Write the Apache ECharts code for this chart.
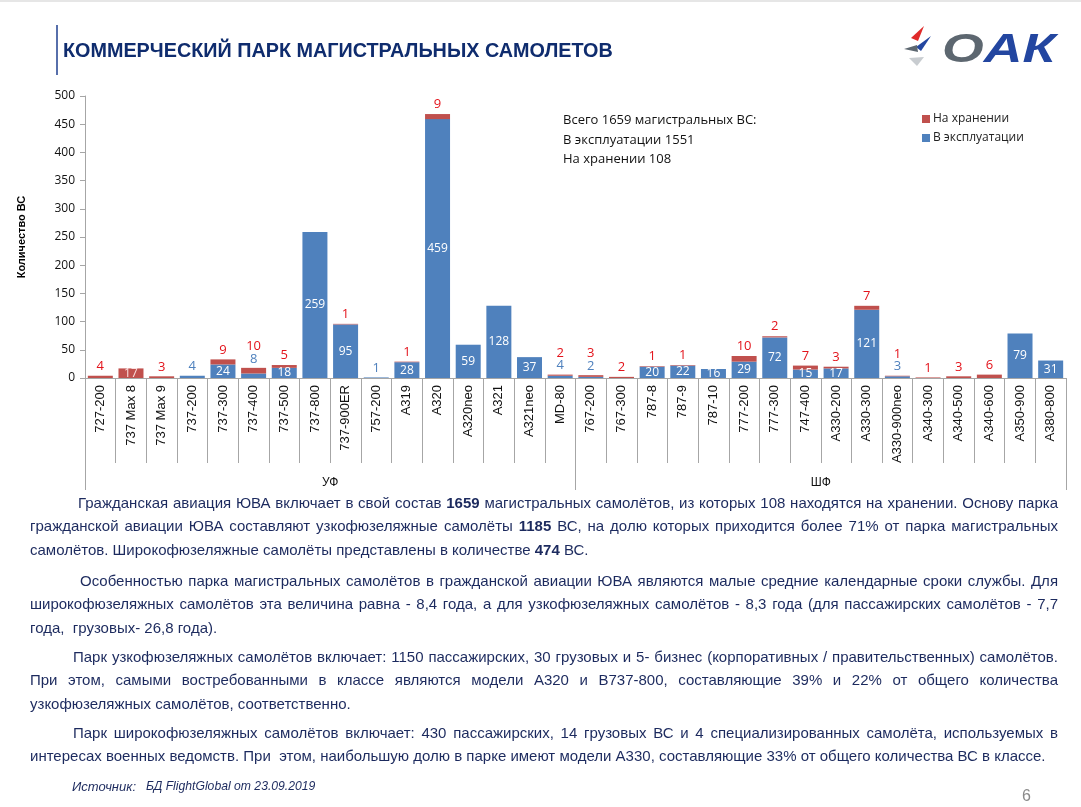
<!DOCTYPE html>
<html><head><meta charset="utf-8">
<script src="https://cdn.jsdelivr.net/npm/echarts@6/dist/echarts.min.js"></script>
<style>
html,body{margin:0;padding:0;background:#fff;width:1081px;height:807px;overflow:hidden;}
#chart{position:absolute;left:0;top:0;width:1081px;height:807px;}
.txt{position:absolute;left:30px;width:1028px;font-family:"Liberation Sans",Arial,sans-serif;font-size:15px;color:#1c2a5e;}
.ln{text-align:justify;text-align-last:justify;height:23.3px;line-height:23.3px;white-space:normal;}
.ln.last{text-align-last:left;}
b{font-weight:bold;}
</style></head>
<body>
<div id="chart"></div>
<div class="txt" style="top:491px">
<div class="ln" style="padding-left:48px">Гражданская авиация ЮВА включает в свой состав <b>1659</b> магистральных самолётов, из которых 108 находятся на хранении. Основу парка</div>
<div class="ln">гражданской авиации ЮВА составляют узкофюзеляжные самолёты <b>1185</b> ВС, на долю которых приходится более 71% от парка магистральных</div>
<div class="ln last">самолётов. Широкофюзеляжные самолёты представлены в количестве <b>474</b> ВС.</div>
</div>
<div class="txt" style="top:569px">
<div class="ln" style="padding-left:50px">Особенностью парка магистральных самолётов в гражданской авиации ЮВА являются малые средние календарные сроки службы. Для</div>
<div class="ln">широкофюзеляжных самолётов эта величина равна - 8,4 года, а для узкофюзеляжных самолётов - 8,3 года (для пассажирских самолётов - 7,7</div>
<div class="ln last">года,&nbsp; грузовых- 26,8 года).</div>
</div>
<div class="txt" style="top:645px">
<div class="ln" style="padding-left:43px">Парк узкофюзеляжных самолётов включает: 1150 пассажирских, 30 грузовых и 5- бизнес (корпоративных / правительственных) самолётов.</div>
<div class="ln">При этом, самыми востребованными в классе являются модели A320 и B737-800, составляющие 39% и 22% от общего количества</div>
<div class="ln last">узкофюзеляжных самолётов, соответственно.</div>
</div>
<div class="txt" style="top:721px">
<div class="ln" style="padding-left:43px">Парк широкофюзеляжных самолётов включает: 430 пассажирских, 14 грузовых ВС и 4 специализированных самолёта, используемых в</div>
<div class="ln last">интересах военных ведомств. При&nbsp; этом, наибольшую долю в парке имеют модели A330, составляющие 33% от общего количества ВС в классе.</div>
</div>
<script>
const categories = ['727-200','737 Max 8','737 Max 9','737-200','737-300','737-400','737-500','737-800','737-900ER','757-200','A319','A320','A320neo','A321','A321neo','MD-80',
  '767-200','767-300','787-8','787-9','787-10','777-200','777-300','747-400','A330-200','A330-300','A330-900neo','A340-300','A340-500','A340-600','A350-900','A380-800'];
const groups = ['УФ','ШФ'];
const inOperation = [0,0,0,4,24,8,18,259,95,1,28,459,59,128,37,4,
  2,0,20,22,16,29,72,15,17,121,3,0,0,0,79,31];
const inStorage = [4,17,3,0,9,10,5,0,1,0,1,9,0,0,0,2,
  3,2,1,1,0,10,2,7,3,7,1,1,3,6,0,0];
const yTicks = {min:0, max:500, interval:50};

const BLUE = '#4f81bd', RED = '#c0504d';
const chart = echarts.init(document.getElementById('chart'), null, {renderer:'canvas'});
const FONT = '"Open Sans", "Noto Sans", sans-serif';

const opData = inOperation.map(v => ({
  value: v,
  label: {show: v >= 10, position:'inside', color:'#fff', fontSize:12, fontFamily:FONT}
}));
const stData = inStorage.map((v,i) => {
  const op = inOperation[i];
  if (op === 0 && v >= 15) {
    return {value:v, label:{show:true, position:'inside', formatter:String(v), color:'#fbe0e0', fontSize:12, fontFamily:FONT}};
  }
  const parts = [];
  if (v > 0) parts.push('{r|' + v + '}');
  if (op > 0 && op < 10) parts.push('{b|' + op + '}');
  return {value:v, label:{show: parts.length>0, formatter: parts.join('\n')}};
});

const option = {
  animation:false,
  grid:{left:85, right:15, top:96, bottom:429},
  legend:{
    orient:'vertical', left:917, top:108, itemWidth:8, itemHeight:8, itemGap:7,
    icon:'rect', data:['На хранении','В эксплуатации'],
    textStyle:{fontSize:12, color:'#222', fontFamily:FONT, padding:[0,0,0,-2]}
  },
  xAxis:[{
    type:'category', data:categories, gridIndex:0,
    axisLine:{lineStyle:{color:'#a6a6a6'}},
    axisTick:{show:true, interval:0, length:85, lineStyle:{color:'#a6a6a6'}},
    axisLabel:{interval:0, rotate:90, margin:7, fontSize:13, color:'#111', fontFamily:'"Liberation Sans", Arial, sans-serif'}
  },{
    type:'category', data:groups, gridIndex:0, position:'bottom',
    axisLine:{show:false},
    axisTick:{show:true, interval:0, length:112, lineStyle:{color:'#a6a6a6'}},
    axisLabel:{interval:0, margin:99, fontSize:12, color:'#111', fontFamily:'"Liberation Sans", Arial, sans-serif'}
  }],
  yAxis:{
    type:'value', min:yTicks.min, max:yTicks.max, interval:yTicks.interval,
    name:'Количество ВС', nameLocation:'middle', nameRotate:90, nameGap:58,
    nameTextStyle:{fontSize:11, fontWeight:'bold', color:'#000', fontFamily:'"Liberation Sans", Arial, sans-serif'},
    axisLine:{show:true, lineStyle:{color:'#a6a6a6'}},
    axisTick:{show:true, length:5, lineStyle:{color:'#a6a6a6'}},
    splitLine:{show:false},
    axisLabel:{fontSize:12, color:'#111', margin:10, fontFamily:FONT}
  },
  series:[{
    name:'В эксплуатации', type:'bar', stack:'t', xAxisIndex:0, data:opData,
    barWidth:25, itemStyle:{color:BLUE}
  },{
    name:'На хранении', type:'bar', stack:'t', xAxisIndex:0, data:stData,
    barWidth:25, itemStyle:{color:RED},
    label:{show:true, position:'top', distance:3, fontFamily:FONT,
      rich:{r:{color:'#e3131b', fontSize:13, lineHeight:13, fontFamily:FONT},
            b:{color:'#4f81bd', fontSize:13, lineHeight:12, fontFamily:FONT}}}
  }],
  graphic:[
    {type:'rect', shape:{x:0,y:0,width:1081,height:2}, style:{fill:'#e6e6e6'}},
    {type:'line', shape:{x1:57,y1:25,x2:57,y2:75}, style:{stroke:'#1f3f8f', lineWidth:1.5}},
    {type:'text', x:63, y:52, style:{text:'КОММЕРЧЕСКИЙ ПАРК МАГИСТРАЛЬНЫХ САМОЛЕТОВ', fill:'#0f2c6e',
      font:'bold 19.8px "Liberation Sans", Arial, sans-serif', verticalAlign:'middle'}},
    {type:'text', x:563, y:111, style:{text:'Всего 1659 магистральных ВС:\nВ эксплуатации 1551\nНа хранении 108',
      fill:'#111', font:'13px "Open Sans", sans-serif', lineHeight:19.5}},
    // logo
    {type:'polygon', shape:{points:[[911,38],[924,26],[918,41]]}, style:{fill:'#e02a2a'}},
    {type:'polygon', shape:{points:[[916,47],[931,36],[921,51]]}, style:{fill:'#2346a0'}},
    {type:'polygon', shape:{points:[[904,49],[917,45],[918,52]]}, style:{fill:'#5d6770'}},
    {type:'polygon', shape:{points:[[909,58],[924,57],[917,66]]}, style:{fill:'#c8ccd0'}},
    {type:'text', x:942, y:51, scaleX:1.34, style:{text:'{o|О}{a|А}{k|К}', verticalAlign:'middle',
      rich:{o:{fill:'#5d6770', font:'italic bold 40px "Liberation Sans", Arial, sans-serif'},
            a:{fill:'#2346a0', font:'italic bold 40px "Liberation Sans", Arial, sans-serif'},
            k:{fill:'#2346a0', font:'italic bold 40px "Liberation Sans", Arial, sans-serif'}}}},
    // footer
    {type:'text', x:72, y:787, style:{text:'Источник:', fill:'#1c2a5e', font:'italic 13px "Liberation Sans", Arial, sans-serif', verticalAlign:'middle'}},
    {type:'text', x:146, y:787, style:{text:'БД FlightGlobal от 23.09.2019', fill:'#1c2a5e', font:'italic 12.2px "Liberation Sans", Arial, sans-serif', verticalAlign:'middle'}},
    {type:'text', x:1022, y:797, style:{text:'6', fill:'#8a8a8a', font:'16px "Liberation Sans", Arial, sans-serif', verticalAlign:'middle'}}
  ]
};
chart.setOption(option);
</script>
</body></html>
